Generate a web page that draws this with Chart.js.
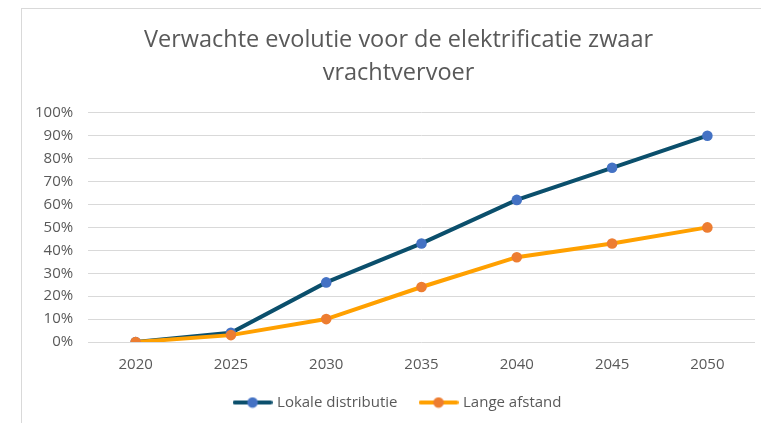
<!DOCTYPE html>
<html>
<head>
<meta charset="utf-8">
<script src="https://cdn.jsdelivr.net/npm/chart.js@4"></script>
<style>
  html, body { margin: 0; padding: 0; background: #fff; overflow: hidden; }
  #box {
    position: absolute; left: 21px; top: 8px;
    width: 760px; height: 420px;
    border-left: 1px solid #d9d9d9; border-top: 1px solid #d9d9d9;
  }
</style>
</head>
<body>
<div id="box"><canvas id="chart" width="753" height="415"></canvas></div>
<script>
// data
const jaren = ["2020", "2025", "2030", "2035", "2040", "2045", "2050"];
const lokaleDistributie = [0, 0.04, 0.26, 0.43, 0.62, 0.76, 0.90];
const langeAfstand = [0, 0.03, 0.10, 0.24, 0.37, 0.43, 0.50];
const titel = ["Verwachte evolutie voor de elektrificatie zwaar", "vrachtvervoer"];

const grijs = "#595959";
const fontFam = "'Open Sans', sans-serif";

// legend sample: line with dot in the middle
function legendSample(lineCol, dotCol) {
  const c = document.createElement("canvas");
  c.width = 40; c.height = 12;
  const g = c.getContext("2d");
  g.strokeStyle = lineCol;
  g.lineWidth = 4;
  g.lineCap = "round";
  g.beginPath(); g.moveTo(2, 6); g.lineTo(38, 6); g.stroke();
  g.fillStyle = dotCol;
  g.beginPath(); g.arc(20, 6, 5.3, 0, Math.PI * 2); g.fill();
  return c;
}

// order: orange series is drawn on top of the blue one
const series = [
  { label: "Lokale distributie", data: lokaleDistributie, line: "#0b4f6c", dot: "#4472c4", order: 1 },
  { label: "Lange afstand", data: langeAfstand, line: "#ffa000", dot: "#ed7d31", order: 0 }
];

new Chart(document.getElementById("chart"), {
  type: "line",
  data: {
    labels: jaren,
    datasets: series.map(s => ({
      label: s.label,
      data: s.data,
      order: s.order,
      borderColor: s.line,
      backgroundColor: s.dot,
      pointBackgroundColor: s.dot,
      pointBorderWidth: 0,
      borderWidth: 4,
      pointRadius: 5.3,
      pointHoverRadius: 5.3,
      pointStyle: "circle",
      tension: 0
    }))
  },
  options: {
    responsive: false,
    animation: false,
    // left padding keeps title + legend centred like the original
    layout: { padding: { left: 20, right: 20, top: 0, bottom: 4 } },
    plugins: {
      title: {
        display: true,
        text: titel,
        color: grijs,
        font: { family: fontFam, size: 23.5, weight: "normal", lineHeight: 1.4 },
        padding: { top: 15, bottom: 23 }
      },
      legend: {
        position: "bottom",
        labels: {
          usePointStyle: true,
          pointStyleWidth: 34,
          color: grijs,
          font: { family: fontFam, size: 15 },
          padding: 24,
          generateLabels(chart) {
            return chart.data.datasets.map((ds, i) => ({
              text: ds.label,
              fontColor: grijs,
              pointStyle: legendSample(series[i].line, series[i].dot),
              datasetIndex: i,
              hidden: false,
              lineWidth: 0
            }));
          }
        }
      },
      tooltip: { enabled: false }
    },
    scales: {
      x: {
        offset: true,
        afterFit(scale) { scale.height = 29; },
        grid: { display: false, drawTicks: false },
        border: { display: false },
        ticks: { color: grijs, font: { family: fontFam, size: 15 }, padding: 14 }
      },
      y: {
        min: 0,
        max: 1,
        afterFit(scale) { scale.width = 46; },
        border: { display: false },
        grid: { color: "#d9d9d9", lineWidth: 1, drawTicks: false },
        ticks: {
          stepSize: 0.1,
          color: grijs,
          // mirrored so the labels are not clipped to the narrow axis box
          mirror: true,
          crossAlign: "far",
          padding: -53,
          font: { family: fontFam, size: 15 },
          callback: v => Math.round(v * 100) + "%"
        }
      }
    }
  }
});
</script>
</body>
</html>
